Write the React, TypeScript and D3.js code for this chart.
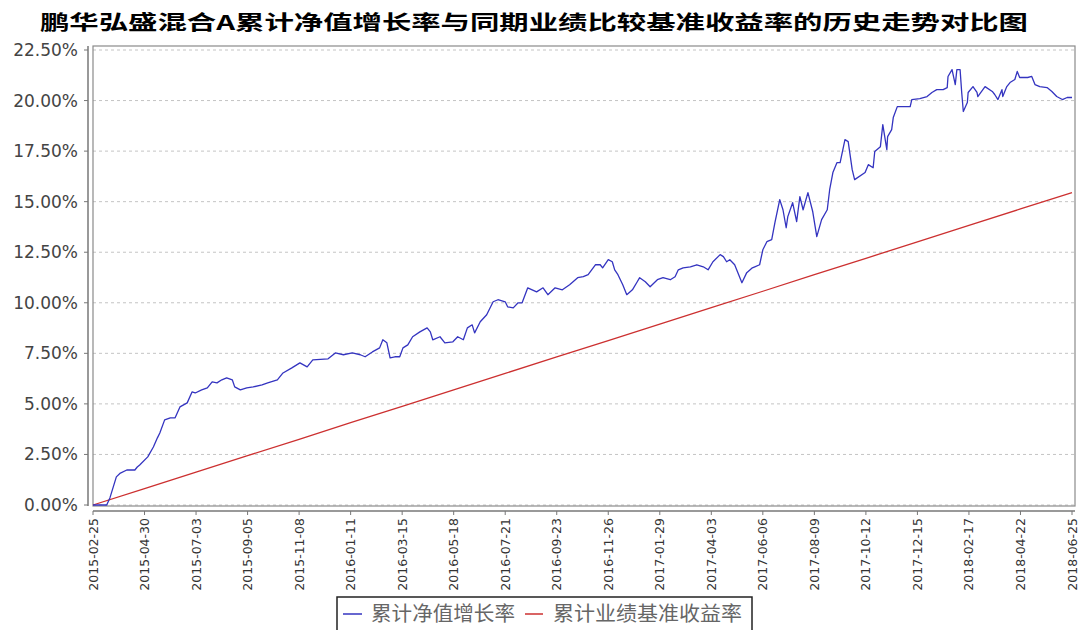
import React from 'react';
import * as d3 from 'd3';

// 鹏华弘盛混合A 累计净值增长率 (%)
const navDates = [
  '2015-02-25', '2015-03-14', '2015-03-18', '2015-03-26', '2015-03-31', '2015-04-08', '2015-04-18', '2015-04-21',
  '2015-04-24', '2015-05-04', '2015-05-11', '2015-05-16', '2015-05-19', '2015-05-25', '2015-06-01', '2015-06-07',
  '2015-06-13', '2015-06-22', '2015-06-28', '2015-07-02', '2015-07-10', '2015-07-17', '2015-07-23', '2015-07-29',
  '2015-08-04', '2015-08-10', '2015-08-17', '2015-08-20', '2015-08-27', '2015-09-04', '2015-09-12', '2015-09-23',
  '2015-09-30', '2015-10-12', '2015-10-19', '2015-10-30', '2015-11-09', '2015-11-18', '2015-11-25', '2015-12-14',
  '2015-12-23', '2016-01-02', '2016-01-13', '2016-01-23', '2016-01-29', '2016-02-07', '2016-02-16', '2016-02-20',
  '2016-02-25', '2016-02-29', '2016-03-06', '2016-03-12', '2016-03-16', '2016-03-22', '2016-03-28', '2016-04-06',
  '2016-04-15', '2016-04-19', '2016-04-22', '2016-05-01', '2016-05-07', '2016-05-17', '2016-05-23', '2016-05-30',
  '2016-06-04', '2016-06-10', '2016-06-13', '2016-06-20', '2016-06-28', '2016-07-06', '2016-07-12', '2016-07-21',
  '2016-07-24', '2016-07-31', '2016-08-06', '2016-08-11', '2016-08-18', '2016-08-29', '2016-09-06', '2016-09-12',
  '2016-09-21', '2016-09-30', '2016-10-09', '2016-10-19', '2016-10-26', '2016-11-01', '2016-11-10', '2016-11-16',
  '2016-11-19', '2016-11-26', '2016-12-01', '2016-12-04', '2016-12-08', '2016-12-14', '2016-12-19', '2016-12-26',
  '2017-01-01', '2017-01-04', '2017-01-11', '2017-01-17', '2017-01-26', '2017-02-02', '2017-02-11', '2017-02-17',
  '2017-02-21', '2017-02-27', '2017-03-08', '2017-03-16', '2017-03-24', '2017-03-30', '2017-04-05', '2017-04-14',
  '2017-04-18', '2017-04-22', '2017-04-26', '2017-05-02', '2017-05-06', '2017-05-11', '2017-05-17', '2017-05-24',
  '2017-05-27', '2017-06-02', '2017-06-06', '2017-06-11', '2017-06-17', '2017-06-21', '2017-06-27', '2017-07-01',
  '2017-07-05', '2017-07-07', '2017-07-13', '2017-07-18', '2017-07-22', '2017-07-26', '2017-08-01', '2017-08-07',
  '2017-08-12', '2017-08-18', '2017-08-25', '2017-08-28', '2017-09-01', '2017-09-06', '2017-09-10', '2017-09-16',
  '2017-09-20', '2017-09-25', '2017-09-28', '2017-10-11', '2017-10-15', '2017-10-21', '2017-10-23', '2017-10-30',
  '2017-11-02', '2017-11-07', '2017-11-08', '2017-11-13', '2017-11-15', '2017-11-20', '2017-12-06', '2017-12-08',
  '2017-12-18', '2017-12-27', '2018-01-02', '2018-01-08', '2018-01-16', '2018-01-21', '2018-01-22', '2018-01-27',
  '2018-01-31', '2018-02-02', '2018-02-06', '2018-02-08', '2018-02-10', '2018-02-15', '2018-02-16', '2018-02-22',
  '2018-02-27', '2018-02-28', '2018-03-09', '2018-03-18', '2018-03-21', '2018-03-25', '2018-03-30', '2018-03-31',
  '2018-04-05', '2018-04-09', '2018-04-15', '2018-04-18', '2018-04-21', '2018-05-01', '2018-05-06', '2018-05-10',
  '2018-05-16', '2018-05-25', '2018-05-31', '2018-06-06', '2018-06-13', '2018-06-19', '2018-06-25',
];

const navValues = [
  0.0, 0.0, 0.35, 1.39, 1.58, 1.73, 1.73, 1.88,
  1.98, 2.38, 2.87, 3.32, 3.56, 4.21, 4.31, 4.31,
  4.85, 5.05, 5.59, 5.54, 5.69, 5.79, 6.09, 6.04,
  6.19, 6.29, 6.19, 5.84, 5.69, 5.79, 5.84, 5.94,
  6.04, 6.19, 6.53, 6.78, 7.03, 6.83, 7.18, 7.23,
  7.52, 7.43, 7.52, 7.43, 7.33, 7.57, 7.77, 8.17,
  8.02, 7.28, 7.33, 7.33, 7.77, 7.92, 8.32, 8.56,
  8.76, 8.56, 8.17, 8.32, 8.02, 8.07, 8.32, 8.17,
  8.76, 8.91, 8.51, 9.06, 9.41, 10.05, 10.15, 10.05,
  9.8, 9.75, 10.0, 10.0, 10.74, 10.54, 10.74, 10.4,
  10.74, 10.64, 10.89, 11.24, 11.29, 11.39, 11.88, 11.88,
  11.73, 12.13, 12.03, 11.63, 11.39, 10.89, 10.4, 10.64,
  11.04, 11.24, 11.04, 10.79, 11.14, 11.24, 11.14, 11.29,
  11.63, 11.73, 11.78, 11.88, 11.78, 11.63, 12.03, 12.38,
  12.28, 12.03, 12.13, 11.88, 11.49, 10.99, 11.49, 11.73,
  11.78, 11.88, 12.62, 13.02, 13.12, 13.96, 15.1, 14.6,
  13.71, 14.26, 14.95, 14.01, 15.25, 14.6, 15.45, 14.5,
  13.27, 14.11, 14.6, 15.59, 16.44, 16.93, 16.93, 18.07,
  17.97, 16.58, 16.09, 16.44, 16.83, 16.68, 17.48, 17.72,
  18.81, 17.57, 18.22, 18.56, 19.16, 19.7, 19.7, 20.05,
  20.1, 20.2, 20.4, 20.54, 20.54, 20.64, 21.19, 21.53,
  20.79, 21.53, 21.53, 20.4, 19.46, 19.9, 20.4, 20.69,
  20.4, 20.2, 20.69, 20.45, 20.3, 20.05, 20.54, 20.2,
  20.69, 20.89, 21.04, 21.44, 21.14, 21.14, 21.19, 20.79,
  20.69, 20.64, 20.45, 20.2, 20.05, 20.15, 20.15,
];

// 累计业绩基准收益率 (%), read at each axis date
const benchDates = [
  '2015-02-25', '2015-04-30', '2015-07-03', '2015-09-05', '2015-11-08', '2016-01-11', '2016-03-15',
  '2016-05-18', '2016-07-21', '2016-09-23', '2016-11-26', '2017-01-29', '2017-04-03', '2017-06-06',
  '2017-08-09', '2017-10-12', '2017-12-15', '2018-02-17', '2018-04-22', '2018-06-25',
];
const benchValues = [
  0.0, 0.81, 1.63, 2.44, 3.25, 4.07, 4.88, 5.69, 6.51, 7.32,
  8.13, 8.95, 9.76, 10.57, 11.39, 12.2, 13.01, 13.83, 14.64, 15.45,
];

const xTickLabels = benchDates;
const yTicks = [0, 2.5, 5, 7.5, 10, 12.5, 15, 17.5, 20, 22.5];

const title = '鹏华弘盛混合A累计净值增长率与同期业绩比较基准收益率的历史走势对比图';
const seriesNames = ['累计净值增长率', '累计业绩基准收益率'];
const seriesColors = ['#3434c0', '#cc3030'];

const W = 1078;
const H = 630;
const plot = { left: 93, right: 1075, top: 46, bottom: 506 };

const parse = d3.timeParse('%Y-%m-%d');

export default function App() {
  const x = d3
    .scaleTime()
    .domain([parse(xTickLabels[0]) as Date, parse(xTickLabels[xTickLabels.length - 1]) as Date])
    .range([plot.left, 1072]);
  const y = d3.scaleLinear().domain([0, 22.5]).range([505, 50]);

  const line = d3
    .line<[string, number]>()
    .x((d) => x(parse(d[0]) as Date))
    .y((d) => y(d[1]));

  const nav = navDates.map((d, i) => [d, navValues[i]] as [string, number]);
  const bench = benchDates.map((d, i) => [d, benchValues[i]] as [string, number]);

  const axisY = 511;
  const cjk = '"Noto Sans CJK SC", sans-serif';

  return (
    <div style={{ position: 'absolute', left: 0, top: 0 }}>
      <svg width={W} height={H} style={{ display: 'block', background: '#fff' }}>
        <text
          x={40}
          y={30}
          fontFamily={cjk}
          fontWeight="bold"
          fontSize={20}
          textLength={988}
          lengthAdjust="spacingAndGlyphs"
          fill="#000"
        >
          {title}
        </text>

        {/* grid */}
        {yTicks.map((t) => (
          <line
            key={'g' + t}
            x1={plot.left}
            x2={plot.right}
            y1={y(t)}
            y2={y(t)}
            stroke="#c4c4c4"
            strokeDasharray="3,3"
          />
        ))}

        {/* plot frame */}
        <rect
          x={plot.left}
          y={plot.top}
          width={plot.right - plot.left}
          height={plot.bottom - plot.top}
          fill="none"
          stroke="#8a8a8a"
          strokeWidth={1.2}
        />

        {/* y axis */}
        <line x1={88} x2={88} y1={plot.top} y2={plot.bottom} stroke="#777" strokeWidth={1.5} />
        {yTicks.map((t) => (
          <g key={'y' + t}>
            <line x1={84} x2={88} y1={y(t)} y2={y(t)} stroke="#777" />
            <text
              x={78}
              y={y(t)}
              textAnchor="end"
              dominantBaseline="central"
              fontFamily="DejaVu Sans, sans-serif"
              fontSize={17}
              fill="#444"
            >
              {t.toFixed(2) + '%'}
            </text>
          </g>
        ))}

        {/* x axis */}
        <line x1={plot.left} x2={plot.right} y1={axisY} y2={axisY} stroke="#777" strokeWidth={1.5} />
        {xTickLabels.map((d) => {
          const px = x(parse(d) as Date);
          return (
            <g key={'x' + d}>
              <line x1={px} x2={px} y1={axisY} y2={axisY + 4} stroke="#777" />
              <text
                transform={`translate(${px},${axisY + 7}) rotate(-90)`}
                textAnchor="end"
                dominantBaseline="central"
                fontFamily="DejaVu Sans, sans-serif"
                fontSize={12.5}
                fill="#333"
              >
                {d}
              </text>
            </g>
          );
        })}

        {/* series */}
        <path d={line(bench) || ''} fill="none" stroke={seriesColors[1]} strokeWidth={1.3} />
        <path d={line(nav) || ''} fill="none" stroke={seriesColors[0]} strokeWidth={1.3} strokeLinejoin="round" />

        {/* legend */}
        <rect x={337} y={597} width={415} height={45} fill="#fff" stroke="#222" strokeWidth={1.5} />
        <line x1={343} x2={362} y1={614} y2={614} stroke={seriesColors[0]} strokeWidth={1.5} />
        <text x={371} y={621} fontFamily={cjk} fontSize={20} fill="#666" textLength={144} lengthAdjust="spacingAndGlyphs">
          {seriesNames[0]}
        </text>
        <line x1={525} x2={543} y1={614} y2={614} stroke={seriesColors[1]} strokeWidth={1.5} />
        <text x={553} y={621} fontFamily={cjk} fontSize={20} fill="#666" textLength={189} lengthAdjust="spacingAndGlyphs">
          {seriesNames[1]}
        </text>
      </svg>
    </div>
  );
}
